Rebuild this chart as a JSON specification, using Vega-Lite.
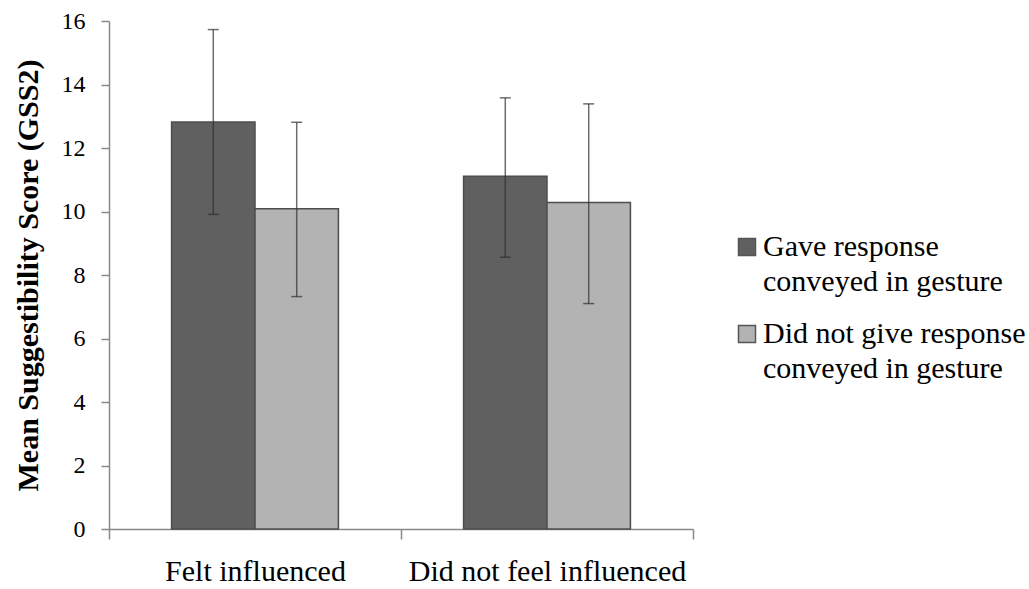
{
  "$schema": "https://vega.github.io/schema/vega-lite/v6.json",
  "width": 584,
  "height": 508,
  "autosize": {"type": "none"},
  "padding": {"left": 109, "top": 21, "right": 336, "bottom": 60},
  "background": "white",
  "config": {
    "font": "Liberation Serif",
    "view": {"stroke": null},
    "axis": {"labelFont": "Liberation Serif", "titleFont": "Liberation Serif"},
    "legend": {"labelFont": "Liberation Serif", "titleFont": "Liberation Serif"}
  },
  "data": {
    "values": [
      {"condition": "Felt influenced", "response": "Gave response conveyed in gesture", "mean": 12.82, "lo": 9.91, "hi": 15.73},
      {"condition": "Felt influenced", "response": "Did not give response conveyed in gesture", "mean": 10.09, "lo": 7.32, "hi": 12.81},
      {"condition": "Did not feel influenced", "response": "Gave response conveyed in gesture", "mean": 11.11, "lo": 8.56, "hi": 13.58},
      {"condition": "Did not feel influenced", "response": "Did not give response conveyed in gesture", "mean": 10.28, "lo": 7.1, "hi": 13.39}
    ]
  },
  "encoding": {
    "x": {
      "field": "condition",
      "type": "nominal",
      "sort": ["Felt influenced", "Did not feel influenced"],
      "scale": {"paddingInner": 0, "paddingOuter": 0},
      "title": null,
      "axis": {
        "labelAngle": 0,
        "labelFont": "Liberation Serif",
        "labelFontSize": 30,
        "labelColor": "black",
        "labelPadding": 17,
        "labelLimit": 0,
        "tickBand": "extent",
        "tickSize": 10,
        "tickColor": "#898989",
        "tickWidth": 1.5,
        "domainColor": "#898989",
        "domainWidth": 1.5
      }
    },
    "xOffset": {
      "field": "response",
      "type": "nominal",
      "sort": ["Gave response conveyed in gesture", "Did not give response conveyed in gesture"],
      "scale": {"paddingInner": 0, "paddingOuter": 0.75}
    }
  },
  "layer": [
    {
      "mark": {"type": "bar", "stroke": "#4d4d4d", "strokeWidth": 1.5},
      "encoding": {
        "y": {
          "field": "mean",
          "type": "quantitative",
          "scale": {"domain": [0, 16], "nice": false},
          "title": "Mean Suggestibility Score (GSS2)",
          "axis": {
            "values": [0, 2, 4, 6, 8, 10, 12, 14, 16],
            "grid": false,
            "domainColor": "#898989",
            "domainWidth": 1.5,
            "tickColor": "#898989",
            "tickWidth": 1.5,
            "tickSize": 8,
            "labelFont": "Liberation Serif",
            "labelFontSize": 24,
            "labelColor": "black",
            "labelPadding": 16,
            "titleFont": "Liberation Serif",
            "titleFontSize": 30,
            "titleFontWeight": "bold",
            "titleColor": "black",
            "titlePadding": 18
          }
        },
        "color": {
          "field": "response",
          "type": "nominal",
          "sort": ["Gave response conveyed in gesture", "Did not give response conveyed in gesture"],
          "scale": {
            "domain": ["Gave response conveyed in gesture", "Did not give response conveyed in gesture"],
            "range": ["#606060", "#b3b3b3"]
          },
          "legend": {
            "title": null,
            "orient": "none",
            "legendX": 623,
            "legendY": 211,
            "padding": 0,
            "symbolType": "square",
            "symbolSize": 289,
            "symbolStrokeColor": "#555555",
            "symbolStrokeWidth": 1.5,
            "labelFont": "Liberation Serif",
            "labelFontSize": 30,
            "labelColor": "black",
            "labelLimit": 0,
            "labelOffset": 1,
            "labelBaseline": "middle",
            "rowPadding": 22,
            "labelExpr": "datum.label == 'Gave response conveyed in gesture' ? ['Gave response', 'conveyed in gesture'] : ['Did not give response', 'conveyed in gesture']",
            "encode": {"labels": {"update": {"lineHeight": {"value": 35}}}}
          }
        }
      }
    },
    {
      "mark": {"type": "rule", "color": "#303030", "strokeWidth": 1.5, "opacity": 0.7},
      "encoding": {
        "y": {"field": "lo", "type": "quantitative"},
        "y2": {"field": "hi"}
      }
    },
    {
      "mark": {"type": "tick", "color": "#303030", "size": 11, "thickness": 1.5, "opacity": 0.7},
      "encoding": {"y": {"field": "lo", "type": "quantitative"}}
    },
    {
      "mark": {"type": "tick", "color": "#303030", "size": 11, "thickness": 1.5, "opacity": 0.7},
      "encoding": {"y": {"field": "hi", "type": "quantitative"}}
    }
  ]
}
